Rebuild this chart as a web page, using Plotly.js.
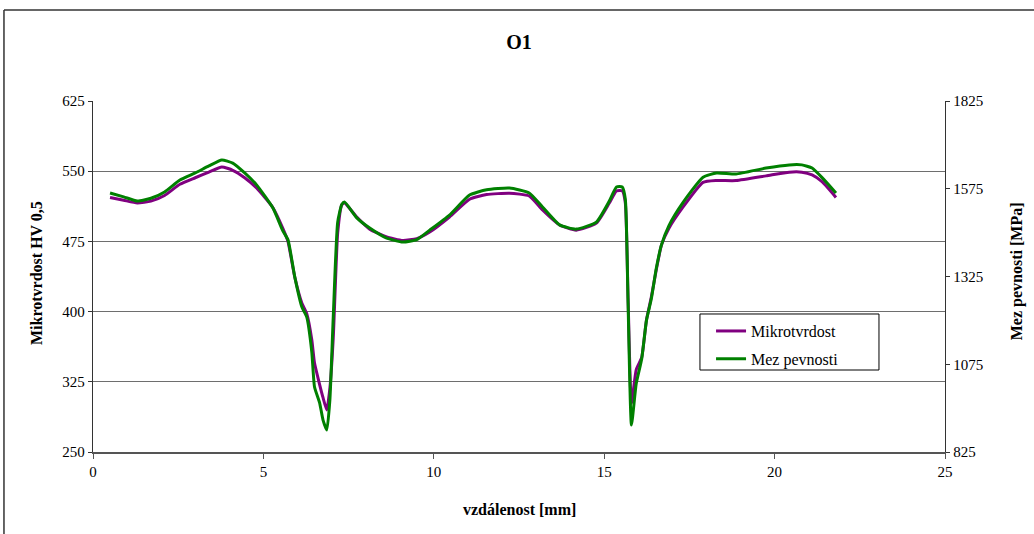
<!DOCTYPE html>
<html>
<head>
<meta charset="utf-8">
<script src="https://cdn.plot.ly/plotly-3.0.1.min.js"></script>
<style>
  html, body { margin: 0; padding: 0; background: #fff; }
  #chart { width: 1034px; height: 534px; }
</style>
</head>
<body>
<div id="chart"></div>
<script>
// Distance from the surface [mm]
const distance = [0.5, 0.9, 1.3, 1.7, 2.1, 2.55, 3.0, 3.4, 3.78, 4.1, 4.45, 4.8, 5.28, 5.57, 5.72, 5.92,
  6.13, 6.27, 6.42, 6.5, 6.65, 6.75, 6.86, 6.95, 7.05, 7.18, 7.3, 7.38, 7.74, 8.12, 8.6, 9.09, 9.5, 9.88,
  10.46, 11.05, 11.55, 12.22, 12.8, 13.19, 13.69, 14.18, 14.77, 15.15, 15.36, 15.53, 15.62, 15.7, 15.8,
  15.94, 16.1, 16.24, 16.38, 16.53, 16.68, 16.9, 17.3, 17.9, 18.3, 18.87, 19.75, 20.43, 20.8, 21.1, 21.4, 21.8];

// Microhardness HV 0,5
const mikrotvrdost = [522, 519, 516, 518, 524, 536, 543, 549, 554.5, 551, 543, 532, 511, 489, 475, 437,
  409, 398, 370, 345, 322, 308, 295, 318, 372, 484, 514, 516, 501, 488, 480, 476, 478, 485,
  501, 520, 525, 526.5, 523.5, 508.5, 492.5, 487, 494.5, 516, 529, 529, 516, 415, 302,
  338, 351, 391, 415, 445, 471, 489, 511, 538, 540, 540, 545, 549, 549, 546, 538.5, 522];

// Ultimate tensile strength [MPa]
const mezPevnosti = [1563, 1552, 1540, 1548, 1566, 1600, 1620, 1640, 1657, 1648, 1620, 1586, 1520, 1455, 1430, 1324,
  1238, 1210, 1110, 1010, 965, 916, 888, 973, 1210, 1480, 1530, 1537, 1492, 1463, 1435, 1423, 1430, 1457,
  1500, 1557, 1572, 1577, 1563, 1523, 1472, 1460, 1480, 1540, 1580, 1580, 1545, 1250, 902,
  1020, 1090, 1200, 1260, 1349, 1415, 1470, 1534, 1608, 1620, 1617, 1634, 1643, 1643, 1634, 1606, 1563];

const serif = 'Liberation Serif';

const traces = [
  {
    x: distance, y: mikrotvrdost, name: 'Mikrotvrdost', type: 'scatter', mode: 'lines',
    line: { color: '#800080', width: 3, shape: 'spline', smoothing: 0.5 },
    yaxis: 'y', legendgroup: 'a'
  },
  {
    x: distance, y: mezPevnosti, name: 'Mez pevnosti', type: 'scatter', mode: 'lines',
    line: { color: '#008000', width: 3, shape: 'spline', smoothing: 0.5 },
    yaxis: 'y2', legendgroup: 'b'
  }
];

const tickFont = { family: serif, size: 15, color: '#000' };

const layout = {
  width: 1034, height: 534,
  margin: { l: 93, r: 89, t: 101, b: 82 },
  paper_bgcolor: '#fff', plot_bgcolor: '#fff',
  font: { family: serif, color: '#000' },
  title: { text: '<b>O1</b>', font: { family: serif, size: 20, color: '#000' }, x: 0.5, xref: 'paper', xanchor: 'center', y: 0.922, yanchor: 'middle' },
  showlegend: true,
  legend: {
    x: 0.7254, y: 0.393, xanchor: 'left', yanchor: 'top',
    bgcolor: 'rgba(0,0,0,0)', borderwidth: 0,
    font: { family: serif, size: 16, color: '#000' },
    traceorder: 'grouped', tracegroupgap: 4,
    itemwidth: 30
  },
  xaxis: {
    range: [0, 25], dtick: 5, tick0: 0, showgrid: false, zeroline: false,
    showline: true, linecolor: '#555', linewidth: 1.5,
    ticks: 'outside', ticklen: 5, tickcolor: '#555', tickwidth: 1,
    tickfont: tickFont
  },
  yaxis: {
    range: [250, 625], dtick: 75, tick0: 250, showgrid: true, gridcolor: '#6e6e6e', gridwidth: 1,
    zeroline: false, showline: true, linecolor: '#333', linewidth: 1.2,
    ticks: 'outside', ticklen: 4, tickcolor: '#333', tickfont: tickFont
  },
  yaxis2: {
    range: [825, 1825], dtick: 250, tick0: 825, overlaying: 'y', side: 'right', anchor: 'x',
    showgrid: false, zeroline: false, showline: true, linecolor: '#333', linewidth: 1.2,
    ticks: 'outside', ticklen: 4, tickcolor: '#333', tickfont: tickFont
  },
  // inner halves of the crossing tick marks
  yaxis3: {
    range: [250, 625], dtick: 75, tick0: 250, overlaying: 'y', side: 'left', anchor: 'x',
    showgrid: false, zeroline: false, showline: false, showticklabels: false,
    ticks: 'inside', ticklen: 4, tickcolor: '#333'
  },
  yaxis4: {
    range: [825, 1825], dtick: 250, tick0: 825, overlaying: 'y', side: 'right', anchor: 'x',
    showgrid: false, zeroline: false, showline: false, showticklabels: false,
    ticks: 'inside', ticklen: 4, tickcolor: '#333'
  },
  annotations: [
    { text: '<b>vzdálenost [mm]</b>', xref: 'paper', yref: 'paper', x: 0.5, y: -0.165,
      xanchor: 'center', yanchor: 'middle', showarrow: false, font: { family: serif, size: 16, color: '#000' } },
    { text: '<b>Mikrotvrdost HV 0,5</b>', xref: 'paper', yref: 'paper', x: -0.0657, y: 0.51,
      xanchor: 'center', yanchor: 'middle', textangle: -90, showarrow: false, font: { family: serif, size: 16, color: '#000' } },
    { text: '<b>Mez pevnosti [MPa]</b>', xref: 'paper', yref: 'paper', x: 1.0845, y: 0.515,
      xanchor: 'center', yanchor: 'middle', textangle: -90, showarrow: false, font: { family: serif, size: 16, color: '#000' } }
  ],
  shapes: [
    // legend frame
    { type: 'rect', xref: 'paper', yref: 'paper', x0: 0.7124, x1: 0.9225, y0: 0.2336, y1: 0.3932,
      layer: 'above', fillcolor: '#fff', line: { color: '#000', width: 1 } },
    // outer chart frame
    { type: 'line', xref: 'paper', yref: 'paper', x0: -0.1045, x1: -0.1045, y0: -0.3, y1: 1.259, line: { color: '#333', width: 1.5 } },
    { type: 'line', xref: 'paper', yref: 'paper', x0: -0.1045, x1: 1.2, y0: 1.259, y1: 1.259, line: { color: '#333', width: 1.5 } }
  ]
};

Plotly.newPlot('chart', traces, layout, { displayModeBar: false, staticPlot: true });
</script>
</body>
</html>
